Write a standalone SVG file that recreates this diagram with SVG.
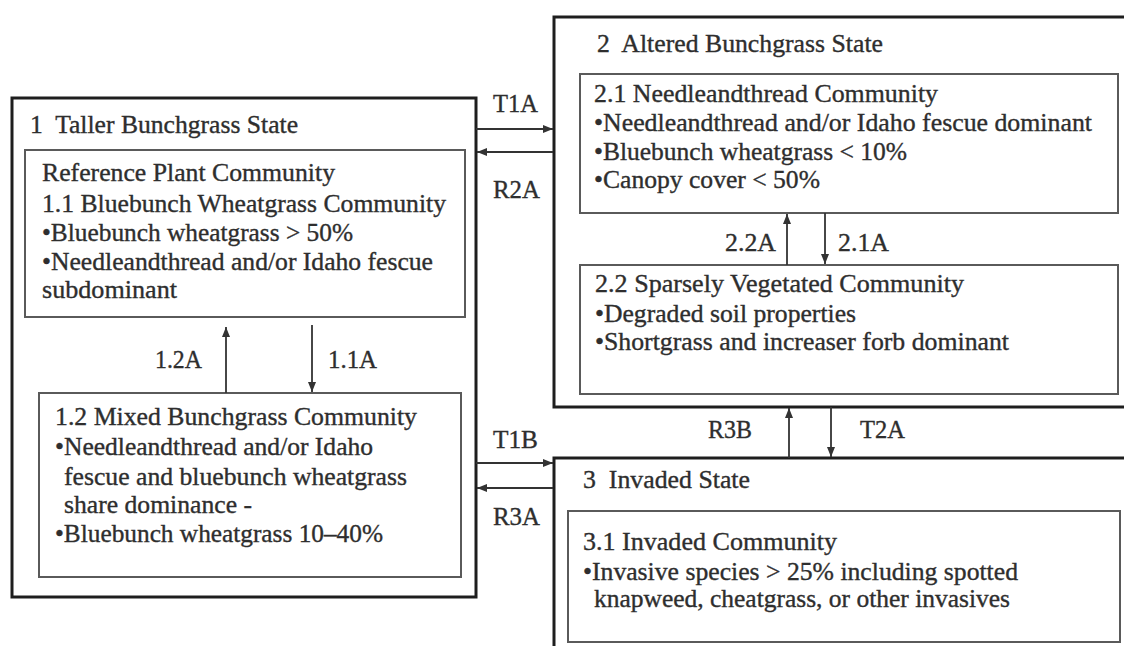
<svg xmlns="http://www.w3.org/2000/svg" width="1124" height="646" viewBox="0 0 1124 646">
<style>
text{font-family:"Liberation Serif","Times New Roman",serif;font-size:25px;fill:#2e2e2e;stroke:#2e2e2e;stroke-width:0.35;white-space:pre}
.state{fill:none;stroke:#1e1e1e;stroke-width:3}
.comm{fill:none;stroke:#5a5a5a;stroke-width:2}
.conn{stroke:#333;stroke-width:1.8;fill:none;marker-end:url(#ah)}
</style>
<defs>
<marker id="ah" markerUnits="userSpaceOnUse" markerWidth="10" markerHeight="8" refX="10" refY="4" orient="auto">
<path d="M0,0 L10,4 L0,8 z" fill="#333"/>
</marker>
</defs>
<rect width="1124" height="646" fill="#ffffff"/>

<g id="state1">
<rect class="state" x="12" y="98" width="464" height="499"/>
<text x="30" y="133" textLength="268" lengthAdjust="spacingAndGlyphs">1  Taller Bunchgrass State</text>
</g>
<g id="comm11">
<rect class="comm" x="25" y="150" width="440" height="167"/>
<text x="42" y="181" textLength="293" lengthAdjust="spacingAndGlyphs">Reference Plant Community</text>
<text x="42" y="212" textLength="404" lengthAdjust="spacingAndGlyphs">1.1 Bluebunch Wheatgrass Community</text>
<text x="42" y="241" textLength="311" lengthAdjust="spacingAndGlyphs">•Bluebunch wheatgrass &gt; 50%</text>
<text x="42" y="270" textLength="391" lengthAdjust="spacingAndGlyphs">•Needleandthread and/or Idaho fescue</text>
<text x="42" y="298" textLength="135" lengthAdjust="spacingAndGlyphs">subdominant</text>
</g>
<g id="comm12">
<rect class="comm" x="39" y="393" width="422" height="184"/>
<text x="55" y="425" textLength="362" lengthAdjust="spacingAndGlyphs">1.2 Mixed Bunchgrass Community</text>
<text x="55" y="455" textLength="318" lengthAdjust="spacingAndGlyphs">•Needleandthread and/or Idaho</text>
<text x="64" y="485" textLength="343" lengthAdjust="spacingAndGlyphs">fescue and bluebunch wheatgrass</text>
<text x="64" y="513" textLength="188" lengthAdjust="spacingAndGlyphs">share dominance -</text>
<text x="55" y="542" textLength="328" lengthAdjust="spacingAndGlyphs">•Bluebunch wheatgrass 10–40%</text>
</g>

<g id="state2">
<rect class="state" x="554" y="17" width="600" height="390"/>
<text x="597" y="52" textLength="286" lengthAdjust="spacingAndGlyphs">2  Altered Bunchgrass State</text>
</g>
<g id="comm21">
<rect class="comm" x="580" y="74" width="538" height="139"/>
<text x="594" y="102" textLength="344" lengthAdjust="spacingAndGlyphs">2.1 Needleandthread Community</text>
<text x="594" y="131" textLength="498" lengthAdjust="spacingAndGlyphs">•Needleandthread and/or Idaho fescue dominant</text>
<text x="594" y="160" textLength="313" lengthAdjust="spacingAndGlyphs">•Bluebunch wheatgrass &lt; 10%</text>
<text x="594" y="188" textLength="226" lengthAdjust="spacingAndGlyphs">•Canopy cover &lt; 50%</text>
</g>
<g id="comm22">
<rect class="comm" x="580" y="265" width="538" height="129"/>
<text x="595" y="292" textLength="369" lengthAdjust="spacingAndGlyphs">2.2 Sparsely Vegetated Community</text>
<text x="595" y="322" textLength="261" lengthAdjust="spacingAndGlyphs">•Degraded soil properties</text>
<text x="595" y="350" textLength="414" lengthAdjust="spacingAndGlyphs">•Shortgrass and increaser forb dominant</text>
</g>

<g id="state3">
<rect class="state" x="554" y="458" width="600" height="250"/>
<text x="583" y="488" textLength="167" lengthAdjust="spacingAndGlyphs">3  Invaded State</text>
</g>
<g id="comm31">
<rect class="comm" x="568" y="511" width="552" height="131"/>
<text x="583" y="550" textLength="254" lengthAdjust="spacingAndGlyphs">3.1 Invaded Community</text>
<text x="583" y="580" textLength="435" lengthAdjust="spacingAndGlyphs">•Invasive species &gt; 25% including spotted</text>
<text x="594" y="607" textLength="416" lengthAdjust="spacingAndGlyphs">knapweed, cheatgrass, or other invasives</text>
</g>

<g id="connectors">
<line class="conn" x1="476" y1="129" x2="553" y2="129"/>
<line class="conn" x1="553" y1="152" x2="477" y2="152"/>
<line class="conn" x1="476" y1="463" x2="553" y2="463"/>
<line class="conn" x1="553" y1="488" x2="477" y2="488"/>
<line class="conn" x1="226" y1="393" x2="226" y2="327"/>
<line class="conn" x1="312" y1="325" x2="312" y2="392"/>
<line class="conn" x1="787" y1="265" x2="787" y2="214"/>
<line class="conn" x1="825" y1="213" x2="825" y2="264"/>
<line class="conn" x1="789" y1="458" x2="789" y2="408"/>
<line class="conn" x1="831" y1="407" x2="831" y2="457"/>
<text x="493" y="112" textLength="45" lengthAdjust="spacingAndGlyphs">T1A</text>
<text x="493" y="198" textLength="47" lengthAdjust="spacingAndGlyphs">R2A</text>
<text x="493" y="448" textLength="45" lengthAdjust="spacingAndGlyphs">T1B</text>
<text x="493" y="525" textLength="47" lengthAdjust="spacingAndGlyphs">R3A</text>
<text x="155" y="368" textLength="47" lengthAdjust="spacingAndGlyphs">1.2A</text>
<text x="328" y="368" textLength="49" lengthAdjust="spacingAndGlyphs">1.1A</text>
<text x="725" y="251" textLength="51" lengthAdjust="spacingAndGlyphs">2.2A</text>
<text x="838" y="251" textLength="51" lengthAdjust="spacingAndGlyphs">2.1A</text>
<text x="708" y="438" textLength="44" lengthAdjust="spacingAndGlyphs">R3B</text>
<text x="860" y="438" textLength="45" lengthAdjust="spacingAndGlyphs">T2A</text>
</g>
</svg>
